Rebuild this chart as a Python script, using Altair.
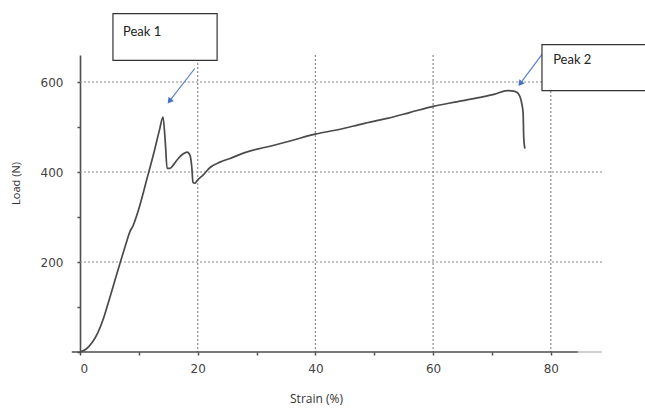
import altair as alt
import pandas as pd

# Curve values
strain = [0, 1, 2, 3, 4, 5, 6, 6.8, 7.8, 8.5, 9.0, 9.9, 11.4, 12.5, 13.5, 14.1,
          14.5, 14.8, 15.3, 16.0, 16.7, 17.5, 18.2, 18.7, 19.0, 19.2, 19.5, 19.9,
          20.9, 22.1, 23.8, 25.5, 28, 32.8, 36, 39.9, 44.2, 48, 52.2, 56, 60, 64,
          68, 70.5, 72.6, 73.9, 74.5, 74.8, 75.1, 75.3, 75.4, 75.6]
load = [0, 6, 20, 42, 75, 118, 162, 197, 240, 268, 280, 314, 386, 440, 493, 522,
        465, 408, 408, 418, 430, 440, 444, 437, 410, 377, 375, 381,
        393, 410, 422, 430, 443, 459, 470, 484, 495, 507, 519, 532, 546, 556,
        566, 573, 581, 579, 574, 566, 550, 530, 477, 452]

y_grid = [200, 400, 600]
x_grid = [20, 40, 60, 80]

# Annotations (data units)
box_labels = ["Peak 1", "Peak 2"]
box_x1 = [5.6, 78.5]
box_x2 = [23.3, 97]
box_y1 = [648, 581]
box_y2 = [752, 683]
label_x = [7.3, 80.4]
label_y = [712, 650]
arrow_x1 = [19.5, 78.6]
arrow_y1 = [630, 663]
arrow_x2 = [15.3, 74.9]
arrow_y2 = [559, 598]

curve = pd.DataFrame({"strain": strain, "load": load, "i": range(len(strain))})
xs = alt.Scale(domain=[0, 88.7], nice=False, zero=False)
ys = alt.Scale(domain=[0, 660], nice=False, zero=False)

GRID = "#8a8a8a"
AXC = "#4d4d4d"

hgrid = alt.Chart(pd.DataFrame({"y": y_grid})).mark_rule(
    color=GRID, strokeDash=[2, 2], strokeWidth=1.2
).encode(y=alt.Y("y:Q", scale=ys), x=alt.value(0), x2=alt.value(522))

vgrid = alt.Chart(pd.DataFrame({"x": x_grid})).mark_rule(
    color=GRID, strokeDash=[2, 2], strokeWidth=1.2
).encode(x=alt.X("x:Q", scale=xs), y=alt.value(0), y2=alt.value(297))

xaxis_line = alt.Chart(pd.DataFrame({"a": [-1.4], "b": [84.6], "y": [0]})).mark_rule(
    color=AXC, strokeWidth=1.6, clip=False
).encode(x=alt.X("a:Q", scale=xs), x2="b:Q", y=alt.Y("y:Q", scale=ys))
xaxis_ext = alt.Chart(pd.DataFrame({"a": [84.6], "b": [88.7], "y": [0]})).mark_rule(
    color="#b0b0b0", strokeWidth=1.2, clip=False
).encode(x=alt.X("a:Q", scale=xs), x2="b:Q", y=alt.Y("y:Q", scale=ys))

line = alt.Chart(curve).mark_line(color="#4a4a4a", strokeWidth=1.7, interpolate="monotone").encode(
    x=alt.X("strain:Q", scale=xs,
            axis=alt.Axis(values=list(range(0, 86, 5)), domain=False,
                          labelExpr="datum.value % 20 == 0 ? datum.label : ''",
                          tickColor=AXC, tickSize=3, tickWidth=1.5,
                          labelFont="DejaVu Sans", labelFontSize=12, labelColor="#444",
                          labelPadding=8, grid=False,
                          title="Strain (%)", titleFont="Open Sans", titleFontSize=12,
                          titleFontWeight="normal", titleColor="#333",
                          titleX=236, titleY=46, titleBaseline="middle")),
    y=alt.Y("load:Q", scale=ys,
            axis=alt.Axis(values=list(range(0, 660, 50)), domainColor=AXC, domainWidth=1.6,
                          labelExpr="datum.value % 200 == 0 && datum.value > 0 ? datum.label : ''",
                          tickColor=AXC, tickSize=3, tickWidth=1.5,
                          labelFont="DejaVu Sans", labelFontSize=12, labelColor="#444",
                          labelPadding=14, grid=False,
                          title="Load (N)", titleFont="Open Sans", titleFontSize=11,
                          titleFontWeight="normal", titleColor="#333",
                          titleX=-64, titleY=128, titleAngle=270, titleBaseline="middle",
                          titleAlign="center")),
    order="i:Q",
)

ann = pd.DataFrame({"label": box_labels, "bx1": box_x1, "bx2": box_x2, "by1": box_y1,
                    "by2": box_y2, "lx": label_x, "ly": label_y,
                    "ax1": arrow_x1, "ay1": arrow_y1, "ax2": arrow_x2, "ay2": arrow_y2})

boxes = alt.Chart(ann).mark_rect(fill="white", stroke="#333", strokeWidth=1.2, clip=False).encode(
    x=alt.X("bx1:Q", scale=xs), x2="bx2:Q", y=alt.Y("by1:Q", scale=ys), y2="by2:Q")

labels = alt.Chart(ann).mark_text(font="Lato", fontSize=13, color="#222", align="left",
                                  baseline="middle", clip=False).encode(
    x=alt.X("lx:Q", scale=xs), y=alt.Y("ly:Q", scale=ys), text="label:N")

arrows = alt.Chart(ann).mark_rule(color="#5b7fc7", strokeWidth=1.2, clip=False).encode(
    x=alt.X("ax1:Q", scale=xs), x2="ax2:Q", y=alt.Y("ay1:Q", scale=ys), y2="ay2:Q")

heads = alt.Chart(ann).mark_point(shape="triangle", filled=True, size=45, color="#4472c4",
                                  opacity=1, angle=218, clip=False).encode(
    x=alt.X("ax2:Q", scale=xs), y=alt.Y("ay2:Q", scale=ys))

chart = alt.layer(hgrid, vgrid, xaxis_ext, line, xaxis_line, arrows, heads, boxes, labels).properties(
    width=522, height=297,
    autosize=alt.AutoSizeParams(type="none"),
    padding={"left": 80, "top": 55, "right": 43, "bottom": 58},
    background="white",
).configure_view(stroke=None)

chart.save("out.html", embed_options={"renderer": "svg", "actions": False})
